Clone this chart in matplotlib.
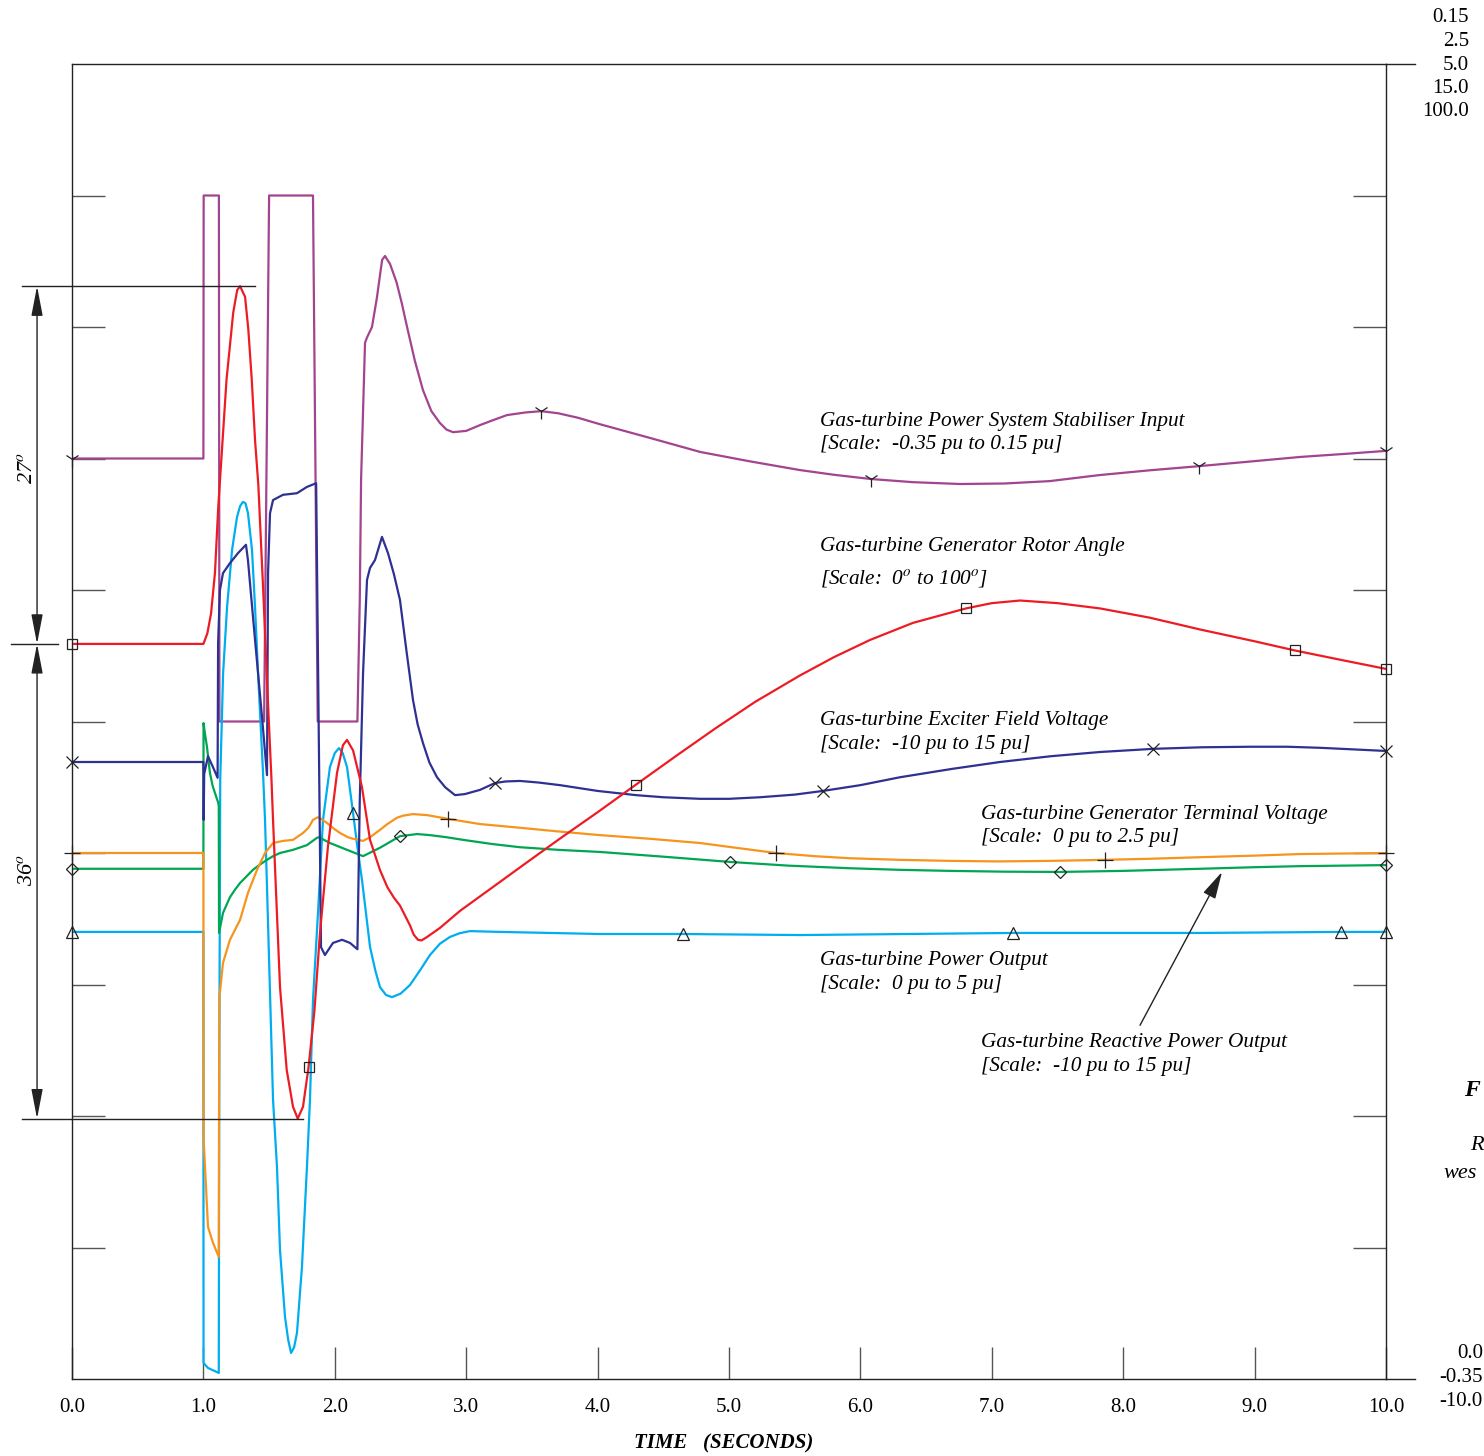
import numpy as np
import matplotlib
matplotlib.use("Agg")
import matplotlib.pyplot as plt

plt.rcParams['font.family'] = ['Liberation Serif', 'DejaVu Serif']
plt.rcParams['mathtext.fontset'] = 'stix'

# ---------------- data (time in seconds, values in each trace's own units) -------------
pss_t = [0, 1.0, 1.002, 1.118, 1.122, 1.462, 1.50, 1.834, 1.87, 2.172, 2.19, 2.20, 2.23, 2.245,
         2.283, 2.32, 2.36, 2.382, 2.42, 2.47, 2.51, 2.55, 2.61, 2.671, 2.735, 2.80, 2.85, 2.90,
         3.0, 3.105, 3.2, 3.31, 3.45, 3.57, 3.7, 3.85, 4.02, 4.4, 4.78, 5.15, 5.54, 5.8, 6.08,
         6.4, 6.76, 7.1, 7.44, 7.82, 8.2, 8.58, 9.0, 9.35, 9.7, 10.0]
pss_v = [0.0, 0.0, 0.10, 0.10, -0.10, -0.10, 0.10, 0.10, -0.10, -0.10, -0.054, -0.008, 0.044, 0.046,
         0.050, 0.061, 0.0755, 0.077, 0.074, 0.067, 0.059, 0.050, 0.037, 0.026, 0.018, 0.0135, 0.011, 0.010,
         0.0105, 0.0127, 0.0145, 0.0165, 0.0175, 0.018, 0.0172, 0.0155, 0.013, 0.0078, 0.0025, -0.001, -0.0044,
         -0.0062, -0.0078, -0.0090, -0.0097, -0.0095, -0.0086, -0.0063, -0.0045, -0.0029, -0.0010, 0.0006,
         0.0018, 0.0029]
pss_marks = [0, 3.57, 6.08, 8.58, 10.0]

ang_t = [0, 1.0, 1.03, 1.058, 1.088, 1.113, 1.139, 1.176, 1.227, 1.257, 1.279, 1.317, 1.342, 1.368,
         1.393, 1.418, 1.455, 1.493, 1.518, 1.53, 1.583, 1.634, 1.682, 1.718, 1.758, 1.80, 1.845,
         1.887, 1.948, 2.017, 2.062, 2.093, 2.139, 2.207, 2.268, 2.344, 2.40, 2.45, 2.496, 2.572,
         2.60, 2.633, 2.66, 2.70, 2.80, 2.953, 3.105, 3.257, 3.45, 3.714, 4.0, 4.292, 4.6, 4.9, 5.2,
         5.54, 5.8, 6.073, 6.4, 6.804, 7.0, 7.215, 7.5, 7.823, 8.2, 8.584, 9.0, 9.307, 9.65, 10.0]
ang_v = [55.9, 55.9, 56.7, 58.2, 61.3, 66.3, 70.3, 76.0, 81.1, 82.8, 83.1, 82.3, 79.8, 76.0,
         71.4, 68.0, 60.0, 51.1, 45.6, 42.5, 29.8, 23.5, 20.7, 19.8, 20.7, 23.7, 28.0,
         33.9, 40.5, 46.1, 48.2, 48.6, 47.8, 45.0, 41.0, 38.7, 37.4, 36.6, 36.0, 34.5,
         33.8, 33.4, 33.35, 33.6, 34.3, 35.6, 36.7, 37.8, 39.2, 41.1, 43.1, 45.2, 47.4, 49.5, 51.5,
         53.5, 54.9, 56.2, 57.5, 58.6, 59.0, 59.2, 59.0, 58.6, 57.9, 57.0, 56.1, 55.4, 54.7, 54.0]
ang_marks = [0, 1.80, 4.292, 6.804, 9.307, 10.0]

efd_t = [0, 1.0, 1.002, 1.006, 1.035, 1.07, 1.108, 1.112, 1.126, 1.149, 1.202, 1.263, 1.324, 1.339,
         1.393, 1.446, 1.484, 1.492, 1.507, 1.53, 1.606, 1.712, 1.788, 1.858, 1.895, 1.925, 1.986,
         2.055, 2.116, 2.172, 2.19, 2.215, 2.245, 2.268, 2.306, 2.359, 2.405, 2.45, 2.496, 2.545,
         2.595, 2.63, 2.671, 2.72, 2.778, 2.84, 2.915, 2.99, 3.105, 3.219, 3.3, 3.409, 3.55, 3.714,
         4.0, 4.292, 4.5, 4.779, 5.0, 5.236, 5.5, 5.715, 6.0, 6.301, 6.7, 7.062, 7.45, 7.823,
         8.227, 8.6, 8.965, 9.25, 9.498, 9.75, 10.0]
efd_v = [1.73, 1.73, 0.63, 1.5, 1.84, 1.65, 1.43, 4.0, 5.0, 5.32, 5.51, 5.70, 5.86, 5.57,
         4.05, 2.59, 1.48, 5.32, 6.46, 6.71, 6.81, 6.84, 6.96, 7.03, -1.79, -1.94, -1.71,
         -1.65, -1.71, -1.83, 1.0, 3.42, 5.19, 5.42, 5.57, 6.01, 5.70, 5.30, 4.81, 3.85,
         2.91, 2.45, 2.09, 1.72, 1.44, 1.25, 1.10, 1.12, 1.20, 1.33, 1.36, 1.37, 1.34, 1.29,
         1.18, 1.10, 1.06, 1.03, 1.03, 1.06, 1.11, 1.18, 1.29, 1.44, 1.60, 1.73, 1.84, 1.92,
         1.98, 2.01, 2.02, 2.02, 2.0, 1.97, 1.94]
efd_marks = [0, 3.219, 5.715, 8.227, 10.0]

vt_t = [0, 1.0, 1.002, 1.035, 1.073, 1.117, 1.119, 1.122, 1.149, 1.202, 1.279, 1.339, 1.408, 1.469,
        1.53, 1.606, 1.682, 1.758, 1.80, 1.834, 1.872, 1.90, 1.941, 2.0, 2.04, 2.1, 2.139, 2.215,
        2.268, 2.344, 2.40, 2.473, 2.52, 2.595, 2.702, 2.861, 3.105, 3.409, 3.7, 4.018, 4.4, 4.779,
        5.05, 5.358, 5.65, 5.921, 6.3, 6.682, 7.05, 7.443, 7.861, 8.2, 8.584, 9.0, 9.346, 10.0]
vt_v = [1.0, 1.0, 0.454, 0.289, 0.259, 0.232, 0.50, 0.726, 0.791, 0.835, 0.873, 0.924, 0.968, 1.0,
        1.019, 1.023, 1.025, 1.038, 1.048, 1.063, 1.068, 1.064, 1.057, 1.045, 1.038, 1.030, 1.027, 1.023,
        1.030, 1.044, 1.055, 1.067, 1.071, 1.074, 1.072, 1.065, 1.055, 1.048, 1.041, 1.034, 1.027, 1.019,
        1.010, 1.0, 0.994, 0.990, 0.987, 0.985, 0.984, 0.985, 0.987, 0.989, 0.992, 0.995, 0.998, 1.0]
vt_marks = [0, 2.861, 5.358, 7.861, 10.0]

q_t = [0, 1.0, 1.001, 1.01, 1.027, 1.05, 1.07, 1.088, 1.111, 1.117, 1.119, 1.149, 1.202, 1.24,
       1.279, 1.33, 1.377, 1.43, 1.484, 1.53, 1.583, 1.682, 1.788, 1.865, 1.88, 1.963, 2.093,
       2.215, 2.344, 2.496, 2.626, 2.724, 2.85, 2.976, 3.2, 3.409, 3.7, 4.018, 4.5, 5.008, 5.45,
       5.921, 6.3, 6.682, 7.1, 7.519, 8.0, 8.584, 9.0, 9.346, 10.0]
q_v = [-0.30, -0.30, 2.47, 2.30, 2.02, 1.52, 1.28, 1.14, 0.97, 0.90, -1.52, -1.14, -0.84, -0.70,
       -0.57, -0.44, -0.32, -0.22, -0.13, -0.06, 0.0, 0.06, 0.15, 0.29, 0.30, 0.19, 0.06,
       -0.06, 0.10, 0.32, 0.36, 0.34, 0.30, 0.25, 0.17, 0.11, 0.06, 0.02, -0.07, -0.17, -0.24,
       -0.29, -0.32, -0.34, -0.355, -0.36, -0.34, -0.30, -0.27, -0.25, -0.23]
q_marks = [0, 2.496, 5.008, 7.519, 10.0]

p_t = [0, 1.0, 1.001, 1.035, 1.117, 1.121, 1.128, 1.15, 1.18, 1.218, 1.256, 1.28, 1.301, 1.32,
       1.339, 1.37, 1.393, 1.416, 1.454, 1.469, 1.484, 1.53, 1.56, 1.583, 1.621, 1.645, 1.667,
       1.69, 1.712, 1.75, 1.788, 1.811, 1.834, 1.872, 1.91, 1.963, 2.0, 2.032, 2.06, 2.093, 2.139,
       2.17, 2.207, 2.24, 2.268, 2.31, 2.344, 2.39, 2.435, 2.5, 2.572, 2.65, 2.724, 2.8, 2.877,
       2.95, 3.029, 3.257, 4.018, 4.65, 5.54, 7.161, 8.584, 9.658, 10.0]
p_v = [1.70, 1.70, 0.061, 0.042, 0.023, 1.2, 2.278, 2.684, 2.935, 3.152, 3.278, 3.32, 3.335, 3.33,
       3.293, 3.152, 2.935, 2.684, 2.304, 2.125, 1.871, 1.061, 0.806, 0.490, 0.236, 0.15, 0.099,
       0.12, 0.175, 0.426, 0.806, 1.061, 1.441, 1.772, 2.125, 2.327, 2.38, 2.399, 2.38, 2.327, 2.152,
       2.03, 1.897, 1.76, 1.643, 1.55, 1.490, 1.46, 1.452, 1.465, 1.498, 1.555, 1.612, 1.655, 1.681,
       1.695, 1.703, 1.70, 1.692, 1.692, 1.688, 1.696, 1.696, 1.70, 1.70]
p_marks = [0, 2.139, 4.65, 7.161, 9.658, 10.0]

x_ticks = [0, 1, 2, 3, 4, 5, 6, 7, 8, 9, 10]
x_tick_labels = ["0.0", "1.0", "2.0", "3.0", "4.0", "5.0", "6.0", "7.0", "8.0", "9.0", "10.0"]
top_scale_labels = ["0.15", "2.5", "5.0", "15.0", "100.0"]
bottom_scale_labels = ["0.0", "-0.35", "-10.0"]

# ---------------- figure ----------------
W, H = 1484, 1456
fig = plt.figure(figsize=(W / 100, H / 100), dpi=100)
ax = fig.add_axes([72 / W, 1 - 1379 / H, (1386 - 72) / W, (1379 - 64) / H])
ax.set_xlim(0, 10)
ax.set_ylim(0, 10)


def fpx(x, y):
    return x / W, 1 - y / H


def div(v, lo, hi):
    return (np.asarray(v, dtype=float) - lo) / (hi - lo) * 10.0


series = [
    (pss_t, pss_v, (-0.35, 0.15), '#A2448F', '1', pss_marks, 11),
    (p_t, p_v, (0, 5), '#00AEEF', '^', p_marks, 8),
    (q_t, q_v, (-10, 15), '#00A651', 'D', q_marks, 6),
    (vt_t, vt_v, (0, 2.5), '#F7941D', '+', vt_marks, 11),
    (efd_t, efd_v, (-10, 15), '#2E3192', 'x', efd_marks, 8),
    (ang_t, ang_v, (0, 100), '#ED1C24', 's', ang_marks, 7.5),
]

for t, v, (lo, hi), col, mk, mt, ms in series:
    t = np.asarray(t, dtype=float)
    y = div(v, lo, hi)
    ax.plot(t, y, color=col, lw=1.6, zorder=2, solid_joinstyle='round')
    idx = [int(np.argmin(np.abs(t - m))) for m in mt]
    ax.plot(t[idx], y[idx], ls='none', marker=mk, mfc='none', mec='#222222',
            ms=ms, mew=0.9, zorder=4, clip_on=False)

# ---------------- axes styling ----------------
for s in ax.spines.values():
    s.set_linewidth(1.0)
    s.set_color('#222222')
ax.set_xticks(x_ticks)
ax.set_xticklabels(x_tick_labels, fontsize=15)
ax.tick_params(axis='x', direction='in', length=23, width=1.0, color='#555555', pad=14,
               top=False)
ax.set_yticks(range(1, 10))
ax.set_yticklabels([])
ax.tick_params(axis='y', direction='in', length=24, width=1.0, color='#555555',
               left=True, right=True)

# frame extensions at the right
ext = 29 / 131.4
for yy in (0, 10):
    ax.plot([10, 10 + ext], [yy, yy], color='#222222', lw=1.0, clip_on=False)

# scale labels at right
for i, s in enumerate(top_scale_labels):
    fig.text(*fpx(1469, 18 + 23.5 * i), s, ha='right', va='center', fontsize=15)
for i, s in enumerate(bottom_scale_labels):
    fig.text(*fpx(1483, 1354 + 23.5 * i), s, ha='right', va='center', fontsize=15)

fig.text(*fpx(724, 1443), "TIME   (SECONDS)", ha='center', va='center', fontsize=15,
         fontstyle='italic', fontweight='bold')

# ---------------- dimension annotations (rotor angle swing) ----------------
a0 = div(ang_v[0], 0, 100)
amax = div(max(ang_v), 0, 100)
amin = div(min(ang_v), 0, 100)
tmax = ang_t[int(np.argmax(ang_v))]
tmin = ang_t[int(np.argmin(ang_v))]
xl = -0.38
xa = -0.266
ax.plot([xl, tmax + 0.11], [amax, amax], color='#222222', lw=1.0, clip_on=False)
ax.plot([-0.464, -0.107], [a0, a0], color='#222222', lw=1.0, clip_on=False)
ax.plot([xl, tmin + 0.04], [amin, amin], color='#222222', lw=1.0, clip_on=False)
for ya, yb in ((a0, amax), (a0, amin)):
    ax.annotate('', xy=(xa, yb), xytext=(xa, ya), annotation_clip=False,
                arrowprops=dict(arrowstyle='<|-|>,head_length=1.3,head_width=0.25',
                                color='#222222', lw=1.0,
                                mutation_scale=14, shrinkA=0, shrinkB=0))
fig.text(*fpx(28, 468), r"27$^{o}$", rotation=90, ha='center', va='center',
         fontsize=16, fontstyle='italic')
fig.text(*fpx(28, 870), r"36$^{o}$", rotation=90, ha='center', va='center',
         fontsize=16, fontstyle='italic')

# ---------------- trace labels ----------------
lab_kw = dict(ha='left', va='center', fontsize=15.3, fontstyle='italic')
labels = [
    (820, 421, "Gas-turbine Power System Stabiliser Input"),
    (820, 445, "[Scale:  -0.35 pu to 0.15 pu]"),
    (820, 546, "Gas-turbine Generator Rotor Angle"),
    (820, 579, r"[Scale:  0$^{o}$ to 100$^{o}$]"),
    (820, 721, "Gas-turbine Exciter Field Voltage"),
    (820, 745, "[Scale:  -10 pu to 15 pu]"),
    (981, 814, "Gas-turbine Generator Terminal Voltage"),
    (981, 838, "[Scale:  0 pu to 2.5 pu]"),
    (820, 960, "Gas-turbine Power Output"),
    (820, 984, "[Scale:  0 pu to 5 pu]"),
    (981, 1043, "Gas-turbine Reactive Power Output"),
    (981, 1067, "[Scale:  -10 pu to 15 pu]"),
]
for x, y, s in labels:
    fig.text(*fpx(x, y), s, **lab_kw)

# arrow to the reactive power trace
ax.annotate('', xy=(8.752, div(-0.36, -10, 15)), xytext=(8.128, 2.69),
            arrowprops=dict(arrowstyle='-|>,head_length=1.2,head_width=0.3',
                            color='#222222', lw=1.0,
                            mutation_scale=14, shrinkA=0, shrinkB=0))

# caption fragments at the right edge (cut off in the source)
fig.text(*fpx(1464, 1090), "F", ha='left', va='center', fontsize=17,
         fontstyle='italic', fontweight='bold')
fig.text(*fpx(1470, 1146), "R", ha='left', va='center', fontsize=16, fontstyle='italic')
fig.text(*fpx(1443, 1174), "wes", ha='left', va='center', fontsize=16, fontstyle='italic')

fig.savefig("out.png", dpi=100)
